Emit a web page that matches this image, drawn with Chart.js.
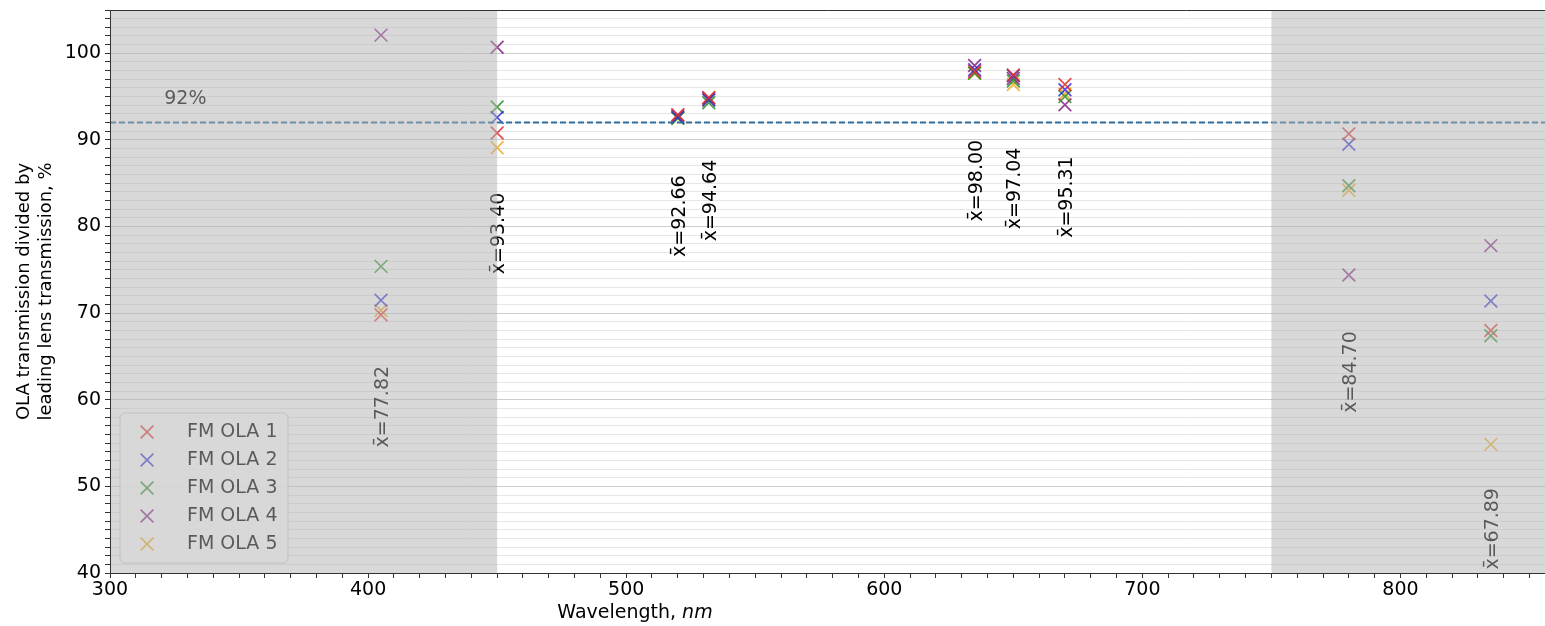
<!DOCTYPE html>
<html>
<head>
<meta charset="utf-8">
<script src="https://cdn.jsdelivr.net/npm/chart.js@4.4.0/dist/chart.umd.min.js"></script>
<style>
  html, body { margin: 0; padding: 0; background: #fff; overflow: hidden; }
  #wrap { width: 1545px; height: 626px; position: relative; }
  canvas { display: block; }
</style>
</head>
<body>
<div id="wrap"><canvas id="olaChart"></canvas></div>
<script>
// --- data ---
const wavelengths = [405, 450, 520, 532, 635, 650, 670, 780, 835];
const ola1 = [69.8, 90.8, 92.9, 94.9, 97.9, 97.5, 96.4, 90.7, 68.0];
const ola2 = [71.5, 92.6, 92.6, 94.6, 98.1, 97.4, 95.8, 89.5, 71.4];
const ola3 = [75.4, 93.8, 92.5, 94.3, 97.7, 96.8, 95.0, 84.7, 67.4];
const ola4 = [102.1, 100.7, 92.8, 94.8, 98.6, 97.1, 94.05, 74.4, 77.8];
const ola5 = [70.3, 89.1, 92.5, 94.6, 97.7, 96.4, 95.3, 84.2, 54.85];
const seriesNames = ['FM OLA 1', 'FM OLA 2', 'FM OLA 3', 'FM OLA 4', 'FM OLA 5'];
const meanLabels = ['77.82', '93.40', '92.66', '94.64', '98.00', '97.04', '95.31', '84.70', '67.89'];
const threshold = 92;
const shadedBands = [[300, 450], [750, 856]];
const xRange = [300, 856];
const yRange = [40, 105];

// where the rotated mean labels sit (data units, label centre)
const meanLabelY = [59.2, 79.2, 81.2, 83.0, 85.3, 84.4, 83.4, 63.2, 45.1];

const seriesColors = [
    'rgba(222, 45, 45, 0.85)',
    'rgba(45, 45, 215, 0.85)',
    'rgba(40, 145, 40, 0.85)',
    'rgba(130, 30, 130, 0.85)',
    'rgba(240, 170, 30, 0.85)'
];
const FONT = "'DejaVu Sans', sans-serif";
const FS = 19;

const seriesValues = [ola1, ola2, ola3, ola4, ola5];

const datasets = seriesValues.map((vals, i) => ({
    type: 'scatter',
    label: seriesNames[i],
    data: wavelengths.map((w, j) => ({ x: w, y: vals[j] })),
    pointStyle: 'crossRot',
    pointRadius: 9,
    pointHoverRadius: 9,
    borderColor: seriesColors[i],
    backgroundColor: seriesColors[i],
    pointBorderWidth: 1.7
}));

datasets.unshift({
    type: 'line',
    label: 'threshold',
    data: [{ x: xRange[0], y: threshold }, { x: xRange[1], y: threshold }],
    borderColor: '#2f6e9e',
    borderWidth: 2,
    borderDash: [6, 3],
    pointRadius: 0,
    fill: false
});

const decorPlugin = {
    id: 'decor',
    afterDatasetsDraw(chart) {
        const ctx = chart.ctx;
        const xs = chart.scales.x, ys = chart.scales.y;
        const area = chart.chartArea;

        ctx.save();
        // rotated mean labels
        ctx.fillStyle = '#000';
        ctx.font = FS + 'px ' + FONT;
        ctx.textAlign = 'center';
        ctx.textBaseline = 'middle';
        wavelengths.forEach((w, i) => {
            ctx.save();
            ctx.translate(xs.getPixelForValue(w) + 2, ys.getPixelForValue(meanLabelY[i]));
            ctx.rotate(-Math.PI / 2);
            ctx.fillText('x\u0304=' + meanLabels[i], 0, 0);
            ctx.restore();
        });

        // threshold label
        ctx.textAlign = 'left';
        ctx.fillText(threshold + '%', xs.getPixelForValue(321), ys.getPixelForValue(94.7));

        // legend box
        const lx = area.left + 10, lw = 168, lh = 150;
        const ly = area.bottom - 10 - lh;
        ctx.beginPath();
        ctx.roundRect(lx, ly, lw, lh, 5);
        ctx.fillStyle = 'rgba(255,255,255,0.8)';
        ctx.fill();
        ctx.strokeStyle = '#cfcfcf';
        ctx.lineWidth = 1;
        ctx.stroke();
        seriesNames.forEach((name, i) => {
            const cy = ly + 19 + i * 28;
            const mx = lx + 27, d = 6.4;
            ctx.strokeStyle = seriesColors[i];
            ctx.lineWidth = 1.7;
            ctx.beginPath();
            ctx.moveTo(mx - d, cy - d); ctx.lineTo(mx + d, cy + d);
            ctx.moveTo(mx - d, cy + d); ctx.lineTo(mx + d, cy - d);
            ctx.stroke();
            ctx.fillStyle = '#000';
            ctx.font = FS + 'px ' + FONT;
            ctx.textAlign = 'left';
            ctx.textBaseline = 'middle';
            ctx.fillText(name, lx + 67, cy);
        });

        // grey bands laid over everything inside the plot
        ctx.fillStyle = 'rgba(177,177,177,0.5)';
        shadedBands.forEach(([a, b]) => {
            const x0 = Math.max(area.left, xs.getPixelForValue(a));
            const x1 = Math.min(area.right, xs.getPixelForValue(b));
            ctx.fillRect(x0, area.top, x1 - x0, area.bottom - area.top);
        });

        // frame
        ctx.strokeStyle = '#333';
        ctx.lineWidth = 1;
        ctx.beginPath();
        ctx.moveTo(area.left + 0.5, area.bottom);
        ctx.lineTo(area.left + 0.5, area.top + 0.5);
        ctx.lineTo(area.right, area.top + 0.5);
        ctx.moveTo(area.left, area.bottom + 0.5);
        ctx.lineTo(area.right, area.bottom + 0.5);
        ctx.stroke();
        ctx.restore();
    },
    afterDraw(chart) {
        const ctx = chart.ctx;
        ctx.save();
        ctx.fillStyle = '#000';
        ctx.textBaseline = 'middle';
        ctx.textAlign = 'left';
        const part1 = 'Wavelength, ', part2 = 'nm';
        ctx.font = FS + 'px ' + FONT;
        const w1 = ctx.measureText(part1).width;
        ctx.font = 'italic ' + FS + 'px ' + FONT;
        const w2 = ctx.measureText(part2).width;
        const x0 = 635 - (w1 + w2) / 2;
        ctx.font = FS + 'px ' + FONT;
        ctx.fillText(part1, x0, 613);
        ctx.font = 'italic ' + FS + 'px ' + FONT;
        ctx.fillText(part2, x0 + w1, 613);
        ctx.restore();
    }
};

new Chart(document.getElementById('olaChart'), {
    data: { datasets: datasets },
    options: {
        responsive: true,
        maintainAspectRatio: false,
        animation: false,
        layout: { autoPadding: false, padding: { top: 10, right: 0, left: 0, bottom: 0 } },
        plugins: {
            legend: { display: false },
            tooltip: { enabled: false }
        },
        scales: {
            x: {
                type: 'linear',
                min: xRange[0],
                max: xRange[1],
                afterFit(scale) {
                    scale.height = 53;
                    scale.paddingLeft = 0;
                    scale.paddingRight = 0;
                },
                border: { display: true, color: '#333' },
                grid: { drawOnChartArea: false, drawTicks: true, tickLength: 5, tickColor: '#333' },
                ticks: {
                    stepSize: 10,
                    autoSkip: false,
                    includeBounds: false,
                    maxRotation: 0,
                    padding: 1,
                    color: '#000',
                    font: { family: FONT, size: FS },
                    callback: v => (v % 100 === 0 ? String(v) : '')
                }
            },
            y: {
                type: 'linear',
                min: yRange[0],
                max: yRange[1],
                afterFit(scale) {
                    scale.width = 110;
                    scale.paddingTop = 0;
                    scale.paddingBottom = 0;
                },
                border: { display: true, color: '#333' },
                grid: {
                    drawTicks: true,
                    tickLength: 5,
                    tickColor: '#333',
                    color: c => (c.tick && c.tick.value % 10 === 0 ? '#cdcdcd' : '#e6e6e6'),
                    lineWidth: 1
                },
                ticks: {
                    stepSize: 1,
                    autoSkip: false,
                    includeBounds: false,
                    padding: 4,
                    color: '#000',
                    font: { family: FONT, size: FS },
                    callback: v => (v % 10 === 0 ? String(v) : '')
                },
                title: {
                    display: true,
                    text: ['OLA transmission divided by', 'leading lens transmission, %'],
                    color: '#000',
                    font: { family: FONT, size: 18, lineHeight: 1.2 },
                    padding: { top: 14, bottom: 0 }
                }
            }
        }
    },
    plugins: [decorPlugin]
});
</script>
</body>
</html>
